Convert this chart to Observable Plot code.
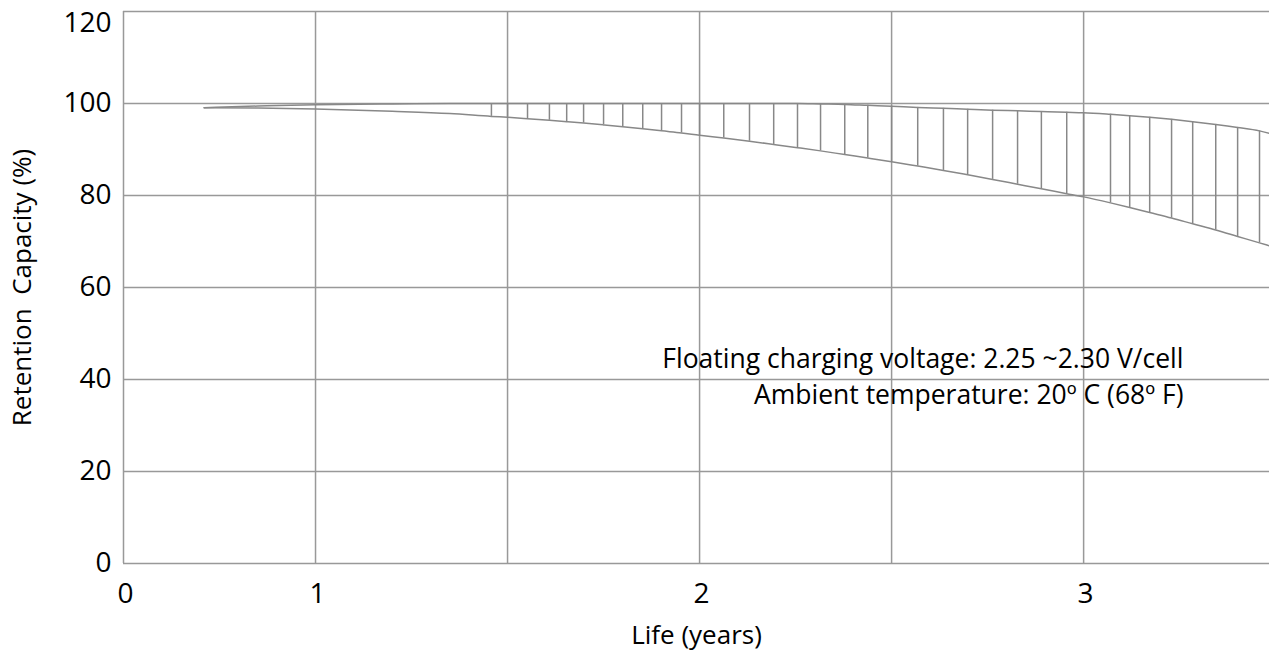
<!DOCTYPE html>
<html><head><meta charset="utf-8">
<script src="https://cdn.jsdelivr.net/npm/d3@7"></script>
<script src="https://cdn.jsdelivr.net/npm/@observablehq/plot@0.6"></script>
<style>
html,body{margin:0;padding:0;background:#fff;overflow:hidden}
svg text{white-space:pre}
</style></head><body><div id="chart"></div>
<script>
// Life (years) sample positions along the two curves
const years = [0.42, 0.7, 1.0, 1.2, 1.35, 1.458, 1.5, 1.552, 1.609, 1.654, 1.698, 1.75, 1.80, 1.852, 1.901, 1.953,
  2.0, 2.063, 2.13, 2.193, 2.255, 2.315, 2.378, 2.438, 2.5, 2.568, 2.635, 2.698, 2.763, 2.828, 2.89, 2.956,
  3.0, 3.07, 3.12, 3.172, 3.229, 3.284, 3.344, 3.401, 3.458, 3.484];
// upper bound of retention capacity (%)
const upper = [99.1, 99.45, 99.75, 99.9, 100, 100, 100, 100, 100, 100, 100, 100, 100, 100, 100, 100,
  100, 100, 100, 100, 100, 99.9, 99.8, 99.6, 99.4, 99.15, 98.95, 98.75, 98.55, 98.4, 98.25, 98.1,
  98.0, 97.65, 97.35, 97.0, 96.55, 96.05, 95.45, 94.8, 94.05, 93.5];
// lower bound of retention capacity (%)
const lower = [99.1, 99.0, 98.8, 98.3, 97.8, 97.2, 97.0, 96.7, 96.35, 96.05, 95.75, 95.35, 94.95, 94.5, 94.05, 93.6,
  93.1, 92.5, 91.8, 91.1, 90.4, 89.7, 88.9, 88.15, 87.35, 86.4, 85.45, 84.5, 83.5, 82.45, 81.45, 80.4,
  79.7, 78.4, 77.4, 76.3, 75.1, 73.85, 72.5, 71.1, 69.7, 69.05];
const hatchFrom = 1.45, hatchTo = 3.47;

const xTicks = [0, 1, 2, 3];
const xGrid = [0, 1, 1.5, 2, 2.5, 3];
const yTicks = [0, 20, 40, 60, 80, 100, 120];
const yMax = 120;
const xMax = 3.484;

const noteLines = ["Floating charging voltage: 2.25 ~2.30 V/cell", "Ambient temperature: 20º C (68º F)"];
const noteX = 3.26;
const noteY = 41;
const xLabel = "Life (years)";
const yLabel = "Retention  Capacity (%)";

// the chart's year axis is compressed between 0 and 1 (half scale), linear afterwards
const pos = t => (t < 1 ? t / 2 : t - 0.5);

const rows = years.map((t, i) => ({t, hi: upper[i], lo: lower[i]}));
const hatch = rows.filter(d => d.t >= hatchFrom && d.t <= hatchTo);
const gray = "#999";
const ink = "#888";
const font = "'Open Sans', sans-serif";

const chart = Plot.plot({
  width: 1269, height: 656,
  marginLeft: 123, marginRight: 0, marginTop: 11, marginBottom: 93,
  style: {fontFamily: font, fontSize: "28px", color: "#000", background: "#fff"},
  x: {domain: [0, pos(xMax)], axis: null},
  y: {domain: [0, yMax], axis: null},
  marks: [
    Plot.ruleX(xGrid, {x: pos, stroke: gray, strokeWidth: 1.5}),
    Plot.ruleY(yTicks, {stroke: gray, strokeWidth: 1.5}),
    Plot.ruleX(hatch, {x: d => pos(d.t), y1: "lo", y2: "hi", stroke: ink, strokeWidth: 1.5}),
    Plot.line(rows, {x: d => pos(d.t), y: "hi", stroke: ink, strokeWidth: 1.5, curve: "monotone-x"}),
    Plot.line(rows, {x: d => pos(d.t), y: "lo", stroke: ink, strokeWidth: 1.5, curve: "monotone-x"}),
    // x tick labels
    Plot.text(xTicks, {x: pos, text: d => String(d), frameAnchor: "bottom", dy: 39, dx: 2, fontSize: 28, fill: "#000"}),
    // y tick labels
    Plot.text(yTicks.filter(v => v < yMax), {y: d => d, text: d => String(d), frameAnchor: "left", textAnchor: "end", dx: -12, fontSize: 28, fill: "#000"}),
    Plot.text(yTicks.filter(v => v >= yMax), {y: d => d, text: d => String(d), frameAnchor: "left", textAnchor: "end", lineAnchor: "top", dx: -12, dy: 1, fontSize: 28, fill: "#000"}),
    // annotation
    Plot.text([noteLines.join("\n")], {x: () => pos(noteX), y: () => noteY, textAnchor: "end", lineHeight: 1.36, fontSize: 26.5, fill: "#000"}),
    // axis titles
    Plot.text([xLabel], {frameAnchor: "bottom", dy: 80, fontSize: 26, fill: "#000"}),
    Plot.text([yLabel], {frameAnchor: "left", textAnchor: "middle", dx: -101, rotate: -90, fontSize: 26, fill: "#000"})
  ]
});
document.getElementById("chart").appendChild(chart);
</script>
</body></html>
